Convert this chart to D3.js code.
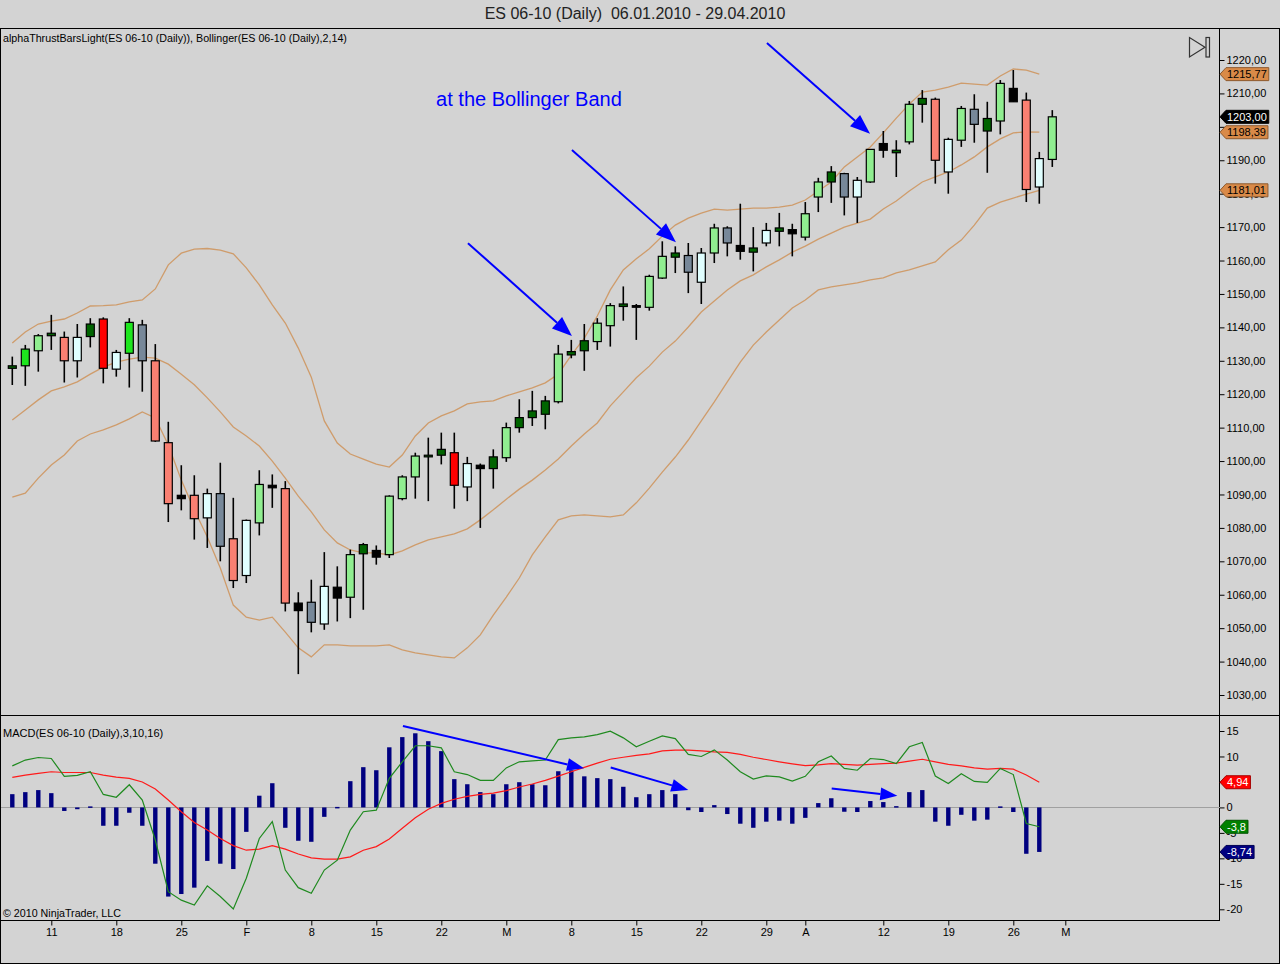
<!DOCTYPE html>
<html>
<head>
<meta charset="utf-8">
<script src="https://cdn.jsdelivr.net/npm/d3@7"></script>
<style>
html, body { margin: 0; padding: 0; background: #d3d3d3; }
svg { display: block; font-family: "Liberation Sans", Arial, sans-serif; }
</style>
</head>
<body>
<svg id="chart" width="1280" height="964"></svg>
<script>
// ES 06-10 daily bars, 06.01.2010 - 29.04.2010
var openP  = [1127.75,1128.5,1133,1137.5,1137,1130,1137.25,1142.5,1127.5,1132.25,1140.75,1130,1105.5,1089.75,1089.75,1083,1090.25,1076.75,1065.75,1081.5,
              1092,1091.75,1057.5,1057.75,1051.25,1062.25,1059.25,1072.25,1073.25,1072,1088.75,1095.25,1101.25,1101.75,1102.5,1092.25,1098.75,1097.75,1101,1110,
              1113,1114,1117.75,1131.75,1133,1135.75,1140.5,1146.25,1146.5,1146,1154.75,1161,1161.5,1153.5,1162.25,1169.75,1164.5,1162.5,1165.25,1168.75,
              1169.25,1167,1179,1183.5,1186,1179,1183.5,1193,1192.25,1195.5,1206.75,1208.25,1186.5,1196,1205.25,1198.75,1201.75,1211.5,1208,1182,1190.25];
var highP  = [1131.25,1134.75,1138,1143.75,1138.75,1141,1142.75,1143,1133.25,1142.75,1142.25,1135,1111.75,1098.75,1095.75,1091.75,1099.5,1089,1082.5,1097.25,
              1096,1094,1060.75,1064.5,1072.75,1068.5,1073.5,1075.5,1074.75,1089.75,1095.75,1102.5,1107,1108.5,1108.5,1101.25,1099.25,1103.5,1111.5,1118.5,
              1121,1119.5,1134.75,1136.25,1141,1142.75,1147.25,1152.25,1147,1155.75,1165.75,1164.25,1165.25,1163.75,1171,1170.25,1177,1170,1171.25,1174.25,
              1171,1177.5,1184.75,1188.25,1186.25,1185,1193.25,1198.75,1196,1207.75,1211,1208.75,1196.75,1206.25,1209.75,1207.5,1214,1217,1210.25,1192.5,1205];
var lowP   = [1122.75,1122.5,1126.75,1133.25,1123.5,1125,1134,1123.25,1125.25,1122,1120.75,1105.75,1081.75,1085.25,1076.5,1074,1070,1062,1063.5,1077.75,
              1086,1055,1036.25,1048.75,1049.5,1052,1053,1055.5,1069,1071,1088.25,1088.75,1088,1099,1085.75,1088,1080,1091.75,1099.75,1108.5,
              1110.5,1109.5,1117.25,1130.75,1127,1133.25,1134.25,1142,1136.25,1145,1154.5,1156.25,1150.25,1147,1159.25,1161.25,1160.25,1156.75,1164.25,1164.25,
              1161.25,1166,1174.5,1177.25,1173.5,1171.25,1183.25,1190.75,1185,1194.75,1201.25,1183,1180,1194,1195.25,1186.25,1197.75,1207.5,1177.5,1177,1188];
var closeP = [1128.5,1133.5,1137.5,1138.25,1130,1137,1141,1127.75,1132.5,1141.5,1130,1106,1087.25,1088.75,1082.75,1090.25,1074.5,1064.25,1082.25,1093,
              1092.75,1057.5,1055.25,1051.75,1062.5,1059,1072,1075,1071.25,1089.5,1095.25,1101.5,1101.75,1103.5,1092.75,1099.25,1097.75,1101.25,1110,1113,
              1115,1118,1132,1132.75,1136,1141.25,1146.5,1147,1146.25,1155.25,1161.25,1162.25,1156.5,1162.25,1169.75,1165.25,1162.75,1163.75,1169,1169.75,
              1168,1174,1183.5,1186.5,1179,1184,1193.25,1195,1193,1206.75,1208.5,1190,1196.25,1205.5,1200.75,1202.5,1213,1207.5,1181.25,1190.5,1203];
// alphaThrust bar state (colour class) per bar
var barState = ["dg","g","lg","dg","s","w","dg","r","w","g","gr","s","s","k","s","w","gr","s","w","lg",
                "k","s","k","gr","w","k","lg","dg","k","lg","lg","lg","dg","dg","r","w","k","dg","lg","dg",
                "dg","dg","lg","dg","dg","lg","lg","dg","k","lg","lg","dg","gr","w","lg","gr","k","dg","w","dg",
                "k","lg","lg","dg","gr","w","lg","k","dg","lg","dg","s","w","lg","gr","dg","lg","k","s","w","lg"];

// Bollinger(2,14)
var bbUpper  = [1135.3,1138.6,1141.0,1141.9,1142.5,1144.3,1146.4,1146.5,1146.7,1147.6,1148.2,1151.5,1158.7,1162.2,1163.4,1163.6,1163.1,1162.0,1157.8,1152.7,
                1146.7,1141.3,1133.8,1125.1,1112.0,1105.4,1102.1,1100.6,1099.1,1098.2,1101.8,1107.5,1111.4,1113.5,1115.0,1117.1,1117.7,1118.0,1119.5,1120.7,
                1121.9,1123.4,1126.0,1131.7,1136.8,1143.4,1151.2,1157.2,1160.5,1163.5,1167.3,1170.6,1172.7,1174.2,1175.4,1175.1,1175.4,1175.7,1175.7,1176.0,
                1176.6,1178.1,1180.8,1183.5,1188.0,1191.0,1194.0,1198.2,1202.6,1206.8,1210.4,1211.0,1211.9,1213.1,1212.8,1212.5,1215.2,1217.3,1217.0,1215.77];
var bbMiddle = [1112.3,1115.3,1118.3,1121.0,1122.2,1123.7,1126.0,1128.1,1129.6,1130.5,1131.1,1130.8,1129.0,1126.0,1122.8,1118.9,1114.7,1110.2,1107.5,1104.5,
                1100.0,1094.9,1089.5,1084.8,1079.4,1075.5,1073.4,1072.5,1072.5,1071.9,1073.1,1074.9,1076.4,1077.3,1078.2,1079.7,1082.4,1085.4,1088.6,1091.6,
                1094.3,1097.3,1100.6,1104.5,1108.1,1111.4,1116.5,1120.7,1124.9,1128.4,1132.6,1135.9,1140.1,1144.6,1147.9,1151.2,1153.9,1155.7,1158.1,1160.2,
                1162.5,1164.3,1166.4,1168.2,1170.0,1171.2,1172.4,1175.4,1177.8,1180.8,1183.5,1185.0,1186.5,1188.6,1191.0,1194.0,1196.4,1198.2,1198.5,1198.39];
var bbLower  = [1089.2,1090.4,1094.9,1098.8,1101.8,1106.0,1108.1,1109.3,1110.8,1112.6,1114.7,1112.9,1104.8,1094.3,1085.4,1077.3,1068.0,1056.9,1053.3,1052.4,
                1053.3,1048.8,1044.1,1041.4,1045.0,1045.0,1044.7,1044.7,1044.7,1045.0,1043.5,1042.6,1042.0,1041.4,1041.1,1044.1,1048.0,1053.9,1059.3,1065.0,
                1071.9,1077.3,1082.4,1083.6,1083.9,1083.6,1083.3,1083.9,1087.5,1091.9,1096.7,1101.2,1106.3,1112.0,1117.7,1123.7,1129.6,1134.7,1138.6,1142.2,
                1145.8,1148.2,1151.2,1152.1,1152.7,1153.3,1154.2,1154.8,1156.3,1157.2,1158.4,1159.6,1163.2,1166.1,1170.6,1175.7,1177.5,1178.7,1179.9,1181.01];

// MACD(3,10,16)
var macdLine = [8.15,9.3,9.8,9.6,6.1,6.3,7.0,2.55,2.0,4.45,1.45,-6.4,-16.55,-18.2,-19.15,-15.4,-17.5,-19.95,-13.9,-6.1,
                -2.8,-12.3,-15.75,-16.85,-12.3,-10.35,-4.45,-0.85,-0.55,5.7,8.95,12.1,12.1,11.7,7.0,6.45,5.3,5.3,7.75,8.95,
                9.15,9.3,13.3,13.65,13.85,14.3,14.95,13.65,11.9,13.0,14.05,13.5,10.4,10.0,11.3,9.3,7.0,5.55,6.2,6.0,
                5.15,6.1,8.95,10.1,7.65,7.3,9.6,9.4,8.6,11.9,12.75,6.15,4.7,6.6,5.1,4.9,7.65,6.45,-3.15,-3.8];
var macdAvg  = [5.9,6.35,6.7,7.0,6.85,6.85,6.85,6.35,5.95,5.7,5.0,3.6,1.45,-0.85,-2.95,-4.45,-6.1,-7.5,-8.4,-8.2,
                -7.5,-8.2,-9.15,-9.9,-10.15,-10.15,-9.7,-8.4,-7.7,-6.2,-4.1,-2.05,-0.35,0.8,1.6,2.15,2.55,2.8,3.3,4.0,
                4.6,5.3,6.15,7.0,7.85,8.7,9.45,9.85,10.2,10.5,11.1,11.25,11.25,11.1,10.9,10.8,10.4,9.85,9.4,8.95,
                8.55,8.2,8.35,8.6,8.45,8.3,8.45,8.6,8.7,9.1,9.45,8.95,8.45,8.15,7.75,7.5,7.65,7.5,6.35,4.94];
var macdDiff = [2.6,3.0,3.4,2.8,-0.7,-0.35,0.2,-3.6,-3.6,-1.05,-3.6,-11.05,-17.5,-17.0,-15.75,-10.5,-11.05,-12.1,-4.8,2.3,
                4.75,-4.0,-6.55,-6.75,-1.85,0.1,5.15,7.9,7.3,11.8,13.8,14.55,13.0,11.05,5.55,4.55,3.0,2.6,4.55,4.95,
                4.55,4.35,7.1,7.3,6.1,5.75,5.55,4.05,2.0,2.6,3.4,2.6,-0.55,-0.9,0.45,-1.3,-3.2,-4.0,-2.8,-2.6,
                -3.2,-2.05,0.85,1.8,-0.85,-0.9,1.25,1.05,0.25,3.0,3.4,-2.8,-3.6,-1.45,-2.6,-2.4,0.2,-0.9,-9.1,-8.74];

// time axis labels (bar index of each label)
var dateTickIndex  = [3, 8, 13, 18, 23, 28, 33, 38, 43, 48, 53, 58, 61, 67, 72, 77, 81];
var dateTickLabels = ["11","18","25","F","8","15","22","M","8","15","22","29","A","12","19","26","M"];

// hand-drawn annotations: [bar from, price/value from, bar to, price/value to]
var priceArrows = [[58.05, 1225.1, 65.98, 1197.9], [43.05, 1193.1, 51.05, 1165.5], [35.05, 1165.2, 43.05, 1137.4]];
var macdArrows  = [[30.05, 16.0, 43.98, 7.67], [46.03, 7.84, 52.0, 3.4], [63.03, 3.73, 68.08, 2.27]];

var barColors = {dg: "#006400", g: "#1ee61e", lg: "#90ee90", s: "#fa8072", r: "#ff0000",
                 w: "#e0ffff", gr: "#778899", k: "#000000"};

var svg = d3.select("#chart");
var axisX = 1219.5, panelTop = 28.5, panelSplit = 715.5, panelBottom = 920.5;

var x  = d3.scaleLinear().domain([0, 80]).range([12.3, 1052.3]);
var y  = d3.scaleLinear().domain([1030, 1220]).range([695, 60]);
var ym = d3.scaleLinear().domain([-20, 15]).range([909.3, 731]);

function fmtPrice(v) { return v.toFixed(2).replace(".", ","); }
function fmtMacd(v) { return String(Math.round(v * 100) / 100).replace(".", ","); }

var last = bbUpper.length - 1;
var priceMarks = [
    {v: bbUpper[last], label: fmtPrice(bbUpper[last]), bg: "#d98a48", fg: "#000"},
    {v: bbMiddle[last], label: fmtPrice(bbMiddle[last]), bg: "#d98a48", fg: "#000"},
    {v: bbLower[last], label: fmtPrice(bbLower[last]), bg: "#d98a48", fg: "#000"},
    {v: closeP[closeP.length - 1], label: fmtPrice(closeP[closeP.length - 1]), bg: "#000000", fg: "#fff"}
];
var macdMarks = [
    {v: macdAvg[last], label: fmtMacd(macdAvg[last]), bg: "#ff0000", fg: "#fff"},
    {v: macdLine[last], label: fmtMacd(macdLine[last]), bg: "#008000", fg: "#fff"},
    {v: macdDiff[last], label: fmtMacd(macdDiff[last]), bg: "#000080", fg: "#fff"}
];

// a tick label is left out when the value markers cover it completely
function covered(ty, marks, scale) {
    function inside(yy) {
        return marks.some(function(m) { return Math.abs(scale(m.v) - yy) <= 6.5; });
    }
    return inside(ty - 4) && inside(ty + 4);
}

// title + frame
svg.append("text").attr("x", 635).attr("y", 19).attr("text-anchor", "middle")
    .attr("font-size", 16).attr("fill", "#222")
    .text("ES 06-10 (Daily)\u00a0 06.01.2010 - 29.04.2010");

var frame = svg.append("g").attr("stroke", "#000").attr("fill", "none").attr("shape-rendering", "crispEdges");
frame.append("rect").attr("x", 0.5).attr("y", panelTop).attr("width", 1279).attr("height", 963.5 - panelTop);
frame.append("line").attr("x1", 0).attr("x2", 1280).attr("y1", panelSplit).attr("y2", panelSplit);
frame.append("line").attr("x1", 0).attr("x2", axisX).attr("y1", panelBottom).attr("y2", panelBottom);
frame.append("line").attr("x1", axisX).attr("x2", axisX).attr("y1", panelTop).attr("y2", panelBottom);

// axes
function styleAxis(g) {
    g.select(".domain").remove();
    g.selectAll("text").attr("font-size", 11).attr("fill", "#000")
        .attr("font-family", "Liberation Sans, Arial, sans-serif");
    g.selectAll("line").attr("stroke", "#000");
}
var priceTicks = d3.range(1030, 1221, 10);
var macdTicks = d3.range(-20, 16, 5);
svg.append("g").attr("transform", "translate(" + axisX + ",0)")
    .call(d3.axisRight(y).tickValues(priceTicks).tickSize(5).tickPadding(2)
        .tickFormat(function(d) { return covered(y(d), priceMarks, y) ? "" : fmtPrice(d); }))
    .call(styleAxis);
svg.append("g").attr("transform", "translate(" + axisX + ",0)")
    .call(d3.axisRight(ym).tickValues(macdTicks).tickSize(5).tickPadding(2)
        .tickFormat(function(d) { return covered(ym(d), macdMarks, ym) ? "" : String(d); }))
    .call(styleAxis);
svg.append("g").attr("transform", "translate(0," + panelBottom + ")")
    .call(d3.axisBottom(x).tickValues(dateTickIndex).tickSize(5).tickPadding(3)
        .tickFormat(function(d, i) { return dateTickLabels[i]; }))
    .call(styleAxis);

// panel captions
svg.append("text").attr("x", 3).attr("y", 42).attr("font-size", 10.7)
    .text("alphaThrustBarsLight(ES 06-10 (Daily)), Bollinger(ES 06-10 (Daily),2,14)");
svg.append("text").attr("x", 3).attr("y", 737).attr("font-size", 11)
    .text("MACD(ES 06-10 (Daily),3,10,16)");
svg.append("text").attr("x", 3).attr("y", 917).attr("font-size", 10.7)
    .text("\u00a9 2010 NinjaTrader, LLC");

// go-to-end icon
var icon = svg.append("g").attr("fill", "none").attr("stroke", "#333").attr("stroke-width", 1.2);
icon.append("path").attr("d", "M1189.5,37.5 L1189.5,57 L1205,47.2 Z");
icon.append("rect").attr("x", 1206).attr("y", 37.5).attr("width", 3.5).attr("height", 19.5);

// Bollinger bands
var bandLine = d3.line().x(function(d, i) { return x(i); }).y(function(d) { return y(d); });
svg.append("g").attr("fill", "none").attr("stroke", "#cd853f").attr("stroke-width", 1.3).attr("stroke-opacity", 0.7)
    .selectAll("path").data([bbUpper, bbMiddle, bbLower]).join("path").attr("d", bandLine);

// candles
var bars = openP.map(function(o, i) {
    return {i: i, o: o, h: highP[i], l: lowP[i], c: closeP[i], s: barState[i]};
});
var cg = svg.append("g");
cg.selectAll("line").data(bars).join("line")
    .attr("x1", function(d) { return x(d.i); }).attr("x2", function(d) { return x(d.i); })
    .attr("y1", function(d) { return y(d.h); }).attr("y2", function(d) { return y(d.l); })
    .attr("stroke", "#000").attr("stroke-width", 1.6);
cg.selectAll("rect").data(bars).join("rect")
    .attr("x", function(d) { return x(d.i) - 4; }).attr("width", 8)
    .attr("y", function(d) { return y(Math.max(d.o, d.c)); })
    .attr("height", function(d) { return Math.max(1.6, y(Math.min(d.o, d.c)) - y(Math.max(d.o, d.c))); })
    .attr("fill", function(d) { return barColors[d.s]; })
    .attr("stroke", "#000").attr("stroke-width", 1.2);

// MACD panel
svg.append("line").attr("x1", 1).attr("x2", axisX).attr("y1", ym(0)).attr("y2", ym(0))
    .attr("stroke", "#a0a0a0").attr("shape-rendering", "crispEdges");
svg.append("g").attr("fill", "#000080").selectAll("rect").data(macdDiff).join("rect")
    .attr("x", function(d, i) { return x(i) - 2.2; }).attr("width", 4.4)
    .attr("y", function(d) { return Math.min(ym(0), ym(d)); })
    .attr("height", function(d) { return Math.max(1.5, Math.abs(ym(d) - ym(0))); });
var macdPath = d3.line().x(function(d, i) { return x(i); }).y(function(d) { return ym(d); });
svg.append("path").datum(macdAvg).attr("d", macdPath).attr("fill", "none")
    .attr("stroke", "#ff1a1a").attr("stroke-width", 1.2);
svg.append("path").datum(macdLine).attr("d", macdPath).attr("fill", "none")
    .attr("stroke", "#1f8a1f").attr("stroke-width", 1.2);

// annotations
function arrow(x1, y1, x2, y2, head) {
    var dx = x2 - x1, dy = y2 - y1, len = Math.sqrt(dx * dx + dy * dy);
    var ux = dx / len, uy = dy / len, bx = x2 - ux * head, by = y2 - uy * head, hw = head * 0.38;
    svg.append("line").attr("x1", x1).attr("y1", y1).attr("x2", bx).attr("y2", by)
        .attr("stroke", "#0000ff").attr("stroke-width", 2);
    svg.append("path").attr("fill", "#0000ff")
        .attr("d", "M" + x2 + "," + y2 + "L" + (bx - uy * hw) + "," + (by + ux * hw) +
                   "L" + (bx + uy * hw) + "," + (by - ux * hw) + "Z");
}
priceArrows.forEach(function(a) { arrow(x(a[0]), y(a[1]), x(a[2]), y(a[3]), 20); });
macdArrows.forEach(function(a) { arrow(x(a[0]), ym(a[1]), x(a[2]), ym(a[3]), 17); });
svg.append("text").attr("x", x(32.6)).attr("y", y(1206.2)).attr("font-size", 20).attr("fill", "#0000ff")
    .text("at the Bollinger Band");

// value markers on the right axis
function marker(yc, label, bg, fg) {
    var g = svg.append("g");
    var path = g.append("path");
    var t = g.append("text").attr("x", 1227).attr("y", yc + 4).attr("font-size", 11).attr("fill", fg).text(label);
    var w = t.node().getComputedTextLength();
    var r = 1227 + w + 2, h = 6.5;
    path.attr("d", "M1220," + yc + "L1226," + (yc - h) + "L" + r + "," + (yc - h) + "L" + r + "," + (yc + h) +
                   "L1226," + (yc + h) + "Z")
        .attr("fill", bg).attr("stroke", d3.color(bg).darker(1.2)).attr("stroke-width", 1);
}
priceMarks.forEach(function(m) { marker(y(m.v), m.label, m.bg, m.fg); });
macdMarks.forEach(function(m) { marker(ym(m.v), m.label, m.bg, m.fg); });
</script>
</body>
</html>
